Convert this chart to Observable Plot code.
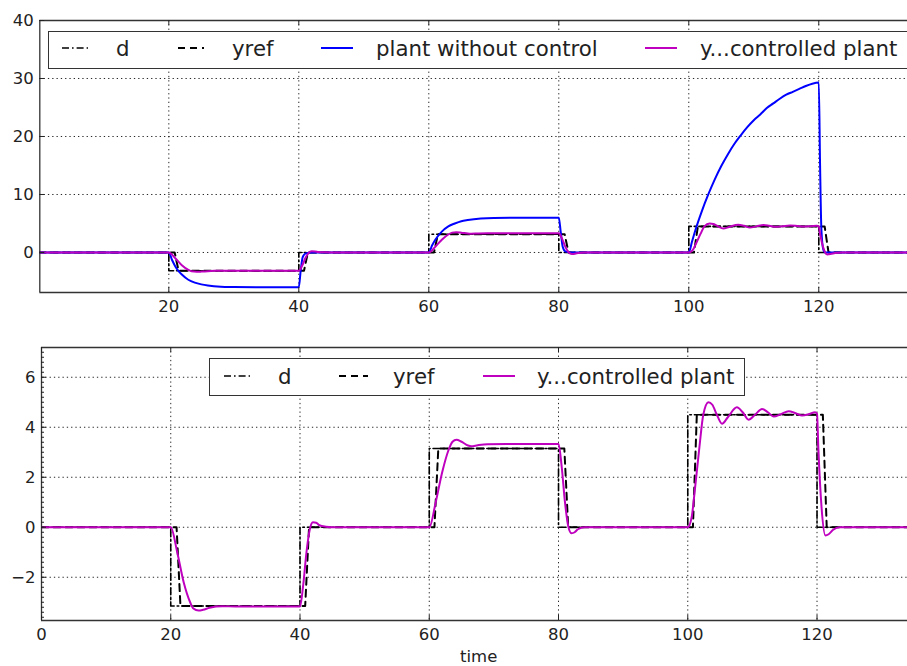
<!DOCTYPE html>
<html><head><meta charset="utf-8">
<script src="https://cdn.jsdelivr.net/npm/d3@7"></script>
<script src="https://cdn.jsdelivr.net/npm/@observablehq/plot@0.6"></script>
<style>
body{margin:0;background:#fff;overflow:hidden;font-family:"DejaVu Sans",sans-serif;}
#wrap{position:relative;width:907px;height:666px;overflow:hidden;background:#fff;}
.pl{position:absolute;left:0;}
.lg{position:absolute;border:1.3px solid #333;background:#fff;box-sizing:border-box;}
.it{position:absolute;font-size:21.3px;color:#222;line-height:24px;height:24px;white-space:nowrap;}
.smp{position:absolute;overflow:visible;}
.ax{position:absolute;font-size:16.5px;color:#222;white-space:nowrap;}
</style></head><body><div id="wrap"></div>
<script>
// ---------- data ----------
const dT = [0, 20, 20, 40, 40, 60, 60, 80, 80, 100, 100, 120, 120, 135];
const dV = [0, 0, -3.15, -3.15, 0, 0, 3.15, 3.15, 0, 0, 4.5, 4.5, 0, 0];

const yrefT = [0, 20.9, 21.5, 40.8, 41.4, 60.8, 61.4, 80.9, 81.5, 100.8, 101.4, 120.9, 121.5, 135];
const yrefV = [0, 0, -3.15, -3.15, 0, 0, 3.15, 3.15, 0, 0, 4.5, 4.5, 0, 0];

const plantT = [0, 20, 20.5, 21, 21.5, 22, 23, 24, 25, 26, 28, 30, 35, 40, 40.3, 40.6, 41, 42,
  60, 60.5, 61, 62, 63, 64, 65, 66, 68, 70, 75, 80, 80.3, 80.6, 81, 82,
  100, 100.5, 101, 102, 103, 104, 105, 106, 107, 108, 109, 110, 111, 112, 113, 114, 115, 116, 117, 118, 119, 120,
  120.2, 120.4, 120.7, 121, 135];
const plantV = [0, 0, -1.3, -2.4, -3.2, -3.8, -4.7, -5.2, -5.5, -5.7, -5.9, -5.95, -6.0, -6.0, -3.0, -0.8, -0.2, 0,
  0, 1.2, 2.2, 3.6, 4.5, 5.0, 5.4, 5.6, 5.85, 5.95, 6.0, 6.0, 3.5, 1.0, 0.2, 0,
  0, 1.9, 3.8, 7.1, 10.0, 12.6, 14.9, 16.9, 18.7, 20.2, 21.6, 22.8, 23.8, 24.9, 25.7, 26.5, 27.2, 27.7, 28.2, 28.7, 29.1, 29.3,
  15, 4, 0.5, 0, 0];

const ctrlT = [0, 20, 21, 22, 23, 23.5, 24.3, 25, 26, 27, 28, 30, 40,
  40.5, 41, 41.5, 42, 42.5, 43, 44, 45, 60,
  61, 62, 63, 63.6, 64.2, 65, 66, 66.5, 67.5, 69, 72, 80,
  80.5, 81, 81.5, 82, 82.5, 83, 84, 100,
  100.6, 101.1, 101.8, 102.4, 103.2, 103.8, 104.5, 105.3, 106.2, 107.6, 108.5, 109.4, 110.4, 111.5, 112.4, 113.3,
  114.4, 115.6, 116.7, 117.7, 118.8, 119.7, 120, 120.2, 120.7, 121.3, 121.8, 122.5, 123.5, 135];
const ctrlV = [0, 0, -1.0, -2.2, -3.0, -3.25, -3.33, -3.3, -3.22, -3.17, -3.16, -3.17, -3.17,
  -2.3, -1.0, -0.1, 0.2, 0.18, 0.08, 0.02, 0, 0,
  1.0, 2.2, 3.1, 3.42, 3.5, 3.42, 3.27, 3.24, 3.28, 3.32, 3.33, 3.33,
  2.4, 1.0, 0.05, -0.24, -0.2, -0.08, 0, 0,
  0.4, 1.5, 3.2, 4.5, 5.0, 4.9, 4.5, 4.14, 4.4, 4.8, 4.6, 4.3, 4.5, 4.73, 4.6, 4.43,
  4.52, 4.64, 4.56, 4.47, 4.53, 4.6, 4.55, 3.2, 0.8, -0.33, -0.28, -0.1, 0, 0];

const topXTicks = [20, 40, 60, 80, 100, 120];
const topYTicks = [0, 10, 20, 30, 40];
const botXTicks = [0, 20, 40, 60, 80, 100, 120];
const botYTicks = [-2, 0, 2, 4, 6];

const topLegend = ["d", "yref", "plant without control", "y...controlled plant"];
const botLegend = ["d", "yref", "y...controlled plant"];
const xLabel = "time";

// ---------- tables ----------
const zip = (T, V) => T.map((t, i) => ({t, v: V[i]}));
const dData = zip(dT, dV), yrefData = zip(yrefT, yrefV), plantData = zip(plantT, plantV), ctrlData = zip(ctrlT, ctrlV);

const styles = {
  d: {stroke: "#000", strokeWidth: 1.6, strokeDasharray: "7,3,1.6,3"},
  yref: {stroke: "#000", strokeWidth: 2, strokeDasharray: "7,5"},
  plant: {stroke: "#0000ff", strokeWidth: 2},
  ctrl: {stroke: "#bf00bf", strokeWidth: 2}
};
const gridStyle = {stroke: "#000", strokeOpacity: 0.85, strokeWidth: 1, strokeDasharray: "1.3,3"};
const spine = {stroke: "#333", strokeWidth: 1.3};

function makePlot({W, H, mt, mb, ml, xdom, ydom, xt, yt, xlab, minor, withPlant}) {
  const innerH = H - mt - mb, innerW = W - ml;
  const marks = [
    Plot.gridX(xt.filter(v => v > xdom[0]), gridStyle),
    Plot.gridY(yt, gridStyle),
    Plot.line(dData, {x: "t", y: "v", ...styles.d, clip: true}),
    Plot.line(yrefData, {x: "t", y: "v", ...styles.yref, clip: true}),
  ];
  if (withPlant) marks.push(Plot.line(plantData, {x: "t", y: "v", ...styles.plant, curve: "monotone-x", clip: true}));
  marks.push(Plot.line(ctrlData, {x: "t", y: "v", ...styles.ctrl, curve: "monotone-x", clip: true}));
  marks.push(
    Plot.ruleY([ydom[0], ydom[1]], spine),
    Plot.ruleX([xdom[0]], spine),
    Plot.tickX(xt, {x: d => d, insetTop: innerH - 5, stroke: "#222"}),
    Plot.tickX(xt, {x: d => d, insetBottom: innerH - 5, stroke: "#222"}),
    Plot.tickY(yt, {y: d => d, insetRight: innerW - 5, stroke: "#222"}),
    Plot.axisX(xlab, {tickSize: 0, tickPadding: 8}),
    Plot.axisY(yt, {tickSize: 0, tickPadding: 6})
  );
  if (minor) marks.push(Plot.tickY(minor, {y: d => d, insetRight: innerW - 3, stroke: "#222"}));
  return Plot.plot({
    width: W, height: H, marginTop: mt, marginBottom: mb, marginLeft: ml, marginRight: 0,
    x: {domain: xdom, label: null}, y: {domain: ydom, label: null},
    style: {fontFamily: "DejaVu Sans", fontSize: "16.5px", color: "#222", background: "transparent", overflow: "visible"},
    marks
  });
}

const wrap = document.getElementById("wrap");

const p1 = makePlot({W: 907, H: 320, mt: 20, mb: 28, ml: 39.3, xdom: [0.15, 133.65], ydom: [-6.9, 40],
  xt: topXTicks, yt: topYTicks, xlab: topXTicks, minor: null, withPlant: true});
p1.classList.add("pl"); p1.style.top = "0px";
wrap.appendChild(p1);

const minorTicks = d3.range(-3.6, 7.2, 0.2).map(v => Math.round(v * 10) / 10);
const p2 = makePlot({W: 907, H: 346, mt: 27, mb: 46, ml: 41, xdom: [0, 134], ydom: [-3.73, 7.19],
  xt: botXTicks, yt: botYTicks, xlab: botXTicks, minor: minorTicks, withPlant: false});
p2.classList.add("pl"); p2.style.top = "320px";
wrap.appendChild(p2);

// ---------- legends (HTML overlays) ----------
function sample(x1, x2, y, st) {
  const s = document.createElementNS("http://www.w3.org/2000/svg", "svg");
  s.setAttribute("class", "smp");
  s.setAttribute("width", x2 - x1); s.setAttribute("height", 6);
  s.style.left = x1 + "px"; s.style.top = (y - 3) + "px";
  const l = document.createElementNS("http://www.w3.org/2000/svg", "line");
  l.setAttribute("x1", 0); l.setAttribute("x2", x2 - x1); l.setAttribute("y1", 3); l.setAttribute("y2", 3);
  l.setAttribute("stroke", st.stroke); l.setAttribute("stroke-width", st.strokeWidth);
  if (st.strokeDasharray) l.setAttribute("stroke-dasharray", st.strokeDasharray);
  s.appendChild(l);
  wrap.appendChild(s);
}
function label(x, top, text) {
  const el = document.createElement("div");
  el.className = "it"; el.style.left = x + "px"; el.style.top = top + "px"; el.textContent = text;
  wrap.appendChild(el);
}
function box(l, t, w, h) {
  const el = document.createElement("div");
  el.className = "lg"; el.style.left = l + "px"; el.style.top = t + "px"; el.style.width = w + "px"; el.style.height = h + "px";
  wrap.appendChild(el);
}
// top legend
box(48, 31, 880, 38);
const topKeys = ["d", "yref", "plant", "ctrl"];
const topSx = [[62, 88], [178, 204], [321, 353], [645, 677]];
const topTx = [116, 232, 376, 700];
topLegend.forEach((t, i) => { sample(topSx[i][0], topSx[i][1], 48, styles[topKeys[i]]); label(topTx[i], 37, t); });
// bottom legend
box(209, 358, 536, 38);
const botKeys = ["d", "yref", "ctrl"];
const botSx = [[224, 250], [339, 368], [483, 515]];
const botTx = [278, 393, 537];
botLegend.forEach((t, i) => { sample(botSx[i][0], botSx[i][1], 376, styles[botKeys[i]]); label(botTx[i], 364.5, t); });

// x label
const xl = document.createElement("div");
xl.className = "ax"; xl.textContent = xLabel;
xl.style.left = "460px"; xl.style.top = "647px";
wrap.appendChild(xl);
</script></body></html>
